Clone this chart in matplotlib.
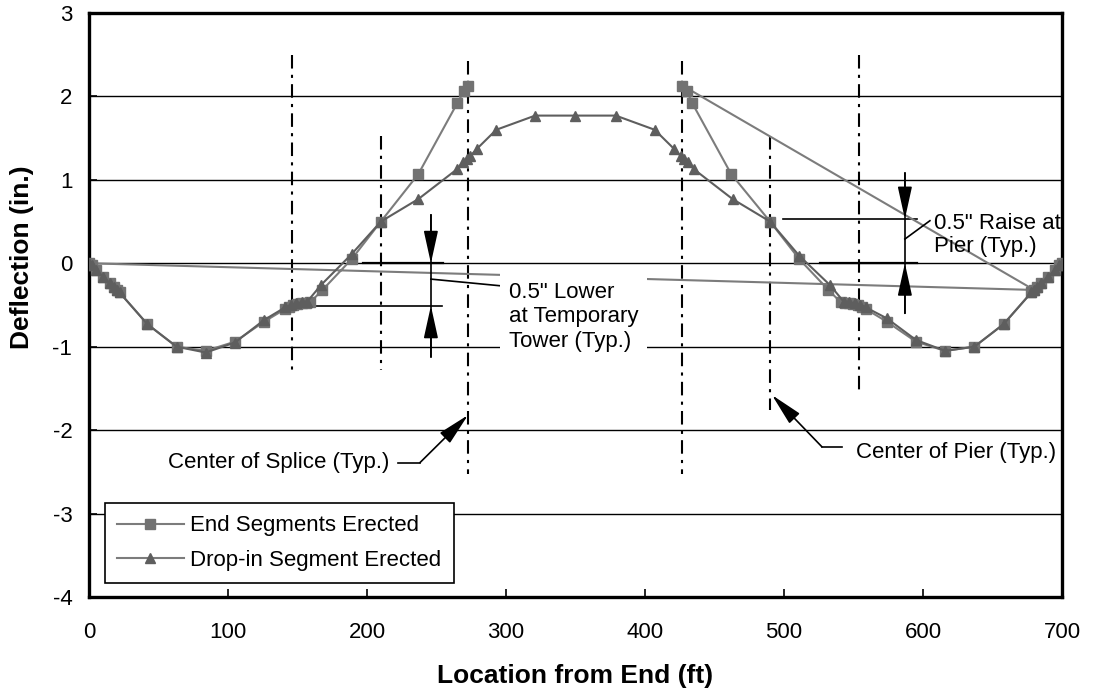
import matplotlib
matplotlib.use("Agg")
import matplotlib.pyplot as plt

plt.rcParams['font.family'] = ['Liberation Sans', 'DejaVu Sans']
plt.rcParams['axes.unicode_minus'] = False

# End segments erected: left and right halves (ft, in.)
end_left_x = [0, 2, 5, 10, 15, 18, 20, 22, 42, 63, 84, 105, 126, 141, 144, 147, 150,
              153, 156, 159, 168, 189, 210, 237, 265, 270, 273]
end_left_y = [0, -0.02, -0.08, -0.16, -0.24, -0.28, -0.32, -0.35, -0.73, -1.0, -1.05,
              -0.94, -0.70, -0.55, -0.52, -0.50, -0.49, -0.48, -0.48, -0.47, -0.32,
              0.05, 0.50, 1.07, 1.92, 2.07, 2.13]
end_right_x = [427, 430, 434, 462, 490, 511, 532, 541, 544, 547, 550, 553, 556, 559,
               574, 595, 616, 637, 658, 678, 680, 682, 685, 690, 695, 698, 700]
end_right_y = [2.13, 2.07, 1.92, 1.07, 0.50, 0.05, -0.32, -0.47, -0.48, -0.48, -0.49,
               -0.50, -0.52, -0.55, -0.70, -0.94, -1.05, -1.0, -0.73, -0.35, -0.32,
               -0.28, -0.24, -0.16, -0.08, -0.02, 0]
end_link = 20  # index in right half where the left half joins

# Drop-in segment erected
drop_x = [0, 2, 5, 10, 15, 18, 20, 22, 42, 63, 84, 105, 126, 141, 145, 149, 153, 157,
          167, 189, 210, 237, 265, 269, 272, 274, 279, 293, 321, 350, 379, 407, 421,
          426, 428, 431, 435, 463, 490, 511, 533, 543, 547, 551, 555, 559, 574, 595,
          616, 637, 658, 678, 680, 682, 685, 690, 695, 698, 700]
drop_y = [0, -0.02, -0.08, -0.16, -0.24, -0.28, -0.32, -0.35, -0.73, -1.0, -1.07, -0.95,
          -0.68, -0.53, -0.50, -0.48, -0.47, -0.46, -0.26, 0.11, 0.50, 0.77, 1.13, 1.21,
          1.25, 1.28, 1.37, 1.60, 1.77, 1.77, 1.77, 1.60, 1.37, 1.28, 1.25, 1.21, 1.13,
          0.77, 0.50, 0.09, -0.26, -0.46, -0.47, -0.48, -0.50, -0.53, -0.66, -0.92,
          -1.05, -1.0, -0.73, -0.35, -0.32, -0.28, -0.24, -0.16, -0.08, -0.02, 0]

# Splices, temporary towers and piers: (x, y_top, y_bottom)
splices = [(273, 2.42, -2.52), (427, 2.42, -2.52)]
towers = [(146, 2.5, -1.28), (554, 2.5, -1.52)]
piers = [(210, 1.52, -1.28), (490, 1.52, -1.76)]

xticks = [0, 100, 200, 300, 400, 500, 600, 700]
yticks = [-4, -3, -2, -1, 0, 1, 2, 3]

fig = plt.figure(figsize=(10.93, 6.94), dpi=100)
ax = fig.add_axes([0.0814, 0.1398, 0.8902, 0.8415])

for yv in yticks[1:-1]:
    ax.axhline(yv, color='black', lw=1.0, zorder=1)

for xv, y0, y1 in splices + towers + piers:
    ax.plot([xv, xv], [y0, y1], color='black', lw=1.5, dashes=(6.5, 3, 1.5, 3), zorder=2)

path_x = end_left_x[::-1] + [end_right_x[end_link]] + end_right_x
path_y = end_left_y[::-1] + [end_right_y[end_link]] + end_right_y
ax.plot(path_x, path_y, color='#7c7c7c', lw=1.5, zorder=3)
ax.plot(end_left_x + end_right_x, end_left_y + end_right_y, ls='none', marker='s',
        ms=7, color='#727272', zorder=4)
ax.plot(drop_x, drop_y, color='#5e5e5e', lw=1.5, marker='^', ms=7.5, zorder=4)

# legend proxies
h1, = ax.plot([], [], color='#7c7c7c', lw=1.5, marker='s', ms=7, mfc='#727272',
              mec='#727272', label='End Segments Erected')
h2, = ax.plot([], [], color='#7c7c7c', lw=1.5, marker='^', ms=7.5, mfc='#5e5e5e',
              mec='#5e5e5e', label='Drop-in Segment Erected')
leg = ax.legend(handles=[h1, h2], loc='lower left', bbox_to_anchor=(0.0164, 0.024),
                borderaxespad=0, fontsize=16, frameon=True, fancybox=False,
                edgecolor='black', framealpha=1, handlelength=3.0, handletextpad=0.3,
                borderpad=0.55, labelspacing=0.6)
leg.get_frame().set_linewidth(1.2)
leg.set_zorder(10)

arrow = dict(arrowstyle='-|>,head_length=1.0,head_width=0.22', color='black',
             lw=1.2, shrinkA=0, shrinkB=0, mutation_scale=20)

# 0.5" lower at temporary tower
ax.plot([162, 254], [-0.51, -0.51], color='black', lw=1.2, zorder=2)
ax.plot([197, 255], [0, 0], color='black', lw=1.6, zorder=2)
ax.plot([246, 246], [0.58, -1.12], color='black', lw=1.2, zorder=5)
ax.annotate('', xy=(246, 0), xytext=(246, 0.58), arrowprops=arrow, zorder=5)
ax.annotate('', xy=(246, -0.51), xytext=(246, -1.12), arrowprops=arrow, zorder=5)
ax.plot([246, 296], [-0.19, -0.27], color='black', lw=1.2, zorder=5)
ax.text(302, -0.64, '0.5" Lower\nat Temporary\nTower (Typ.)', fontsize=16,
        ha='left', va='center', linespacing=1.22, zorder=6,
        bbox=dict(facecolor='white', edgecolor='none', pad=6))

# 0.5" raise at pier
ax.plot([499, 596], [0.53, 0.53], color='black', lw=1.2, zorder=2)
ax.plot([526, 596], [0, 0], color='black', lw=1.6, zorder=2)
ax.plot([587, 587], [1.08, -0.6], color='black', lw=1.2, zorder=5)
ax.annotate('', xy=(587, 0.53), xytext=(587, 1.08), arrowprops=arrow, zorder=5)
ax.annotate('', xy=(587, 0), xytext=(587, -0.6), arrowprops=arrow, zorder=5)
ax.plot([587, 605], [0.29, 0.51], color='black', lw=1.2, zorder=5)
ax.text(608, 0.34, '0.5" Raise at\nPier (Typ.)', fontsize=16, ha='left',
        va='center', linespacing=1.15, zorder=6)

# center of splice / pier
ax.plot([222.6, 238.1], [-2.39, -2.39], color='black', lw=1.2, zorder=5)
ax.annotate('', xy=(272.7, -1.82), xytext=(238.1, -2.39), arrowprops=arrow, zorder=5)
ax.text(216, -2.39, 'Center of Splice (Typ.)', fontsize=16, ha='right', va='center')
ax.plot([541.7, 527.3], [-2.2, -2.2], color='black', lw=1.2, zorder=5)
ax.annotate('', xy=(491.4, -1.58), xytext=(527.3, -2.2), arrowprops=arrow, zorder=5)
ax.text(552, -2.27, 'Center of Pier (Typ.)', fontsize=16, ha='left', va='center')

ax.set_xlim(0, 700)
ax.set_ylim(-4, 3)
ax.set_xticks(xticks)
ax.set_yticks(yticks)
ax.tick_params(direction='in', length=6, width=1.2, labelsize=16)
ax.tick_params(axis='x', pad=18)
ax.tick_params(axis='y', pad=12)
for s in ax.spines.values():
    s.set_linewidth(2.4)

ax.set_xlabel('Location from End (ft)', fontsize=19, fontweight='bold')
ax.set_ylabel('Deflection (in.)', fontsize=19, fontweight='bold')
ax.xaxis.set_label_coords(0.5, -0.115)
ax.yaxis.set_label_coords(-0.057, 0.582)

fig.savefig('out.png', dpi=100)
